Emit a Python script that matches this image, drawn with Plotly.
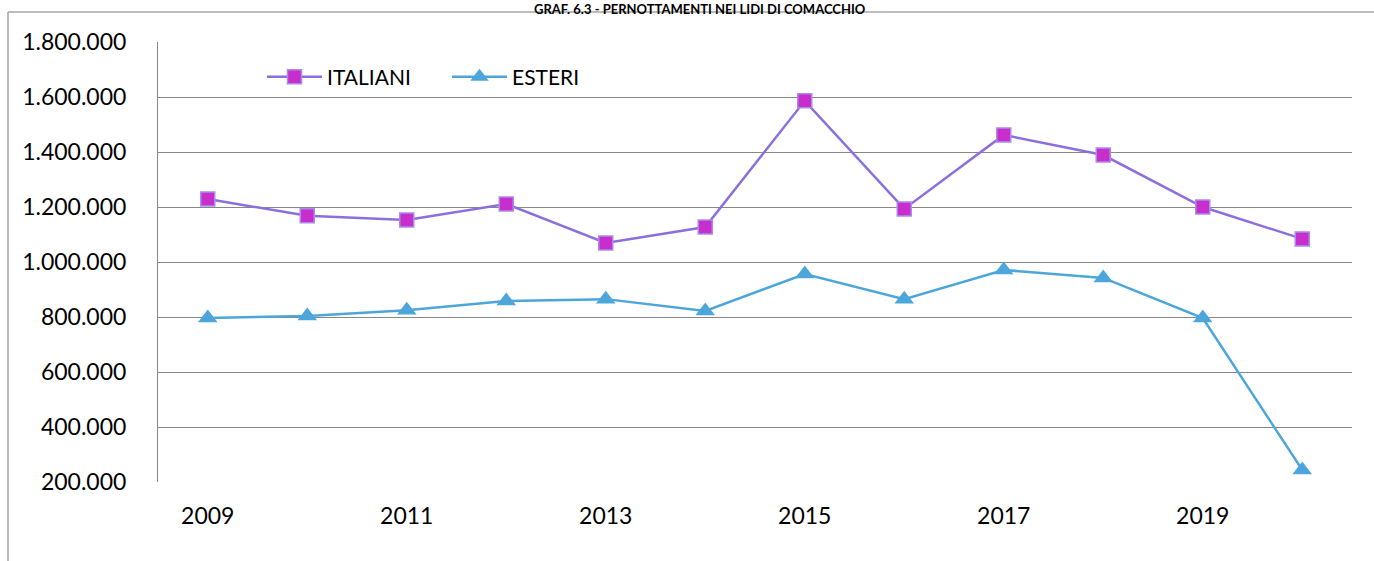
import plotly.graph_objects as go

# Pernottamenti annuali per provenienza
anni = [2009, 2010, 2011, 2012, 2013, 2014, 2015, 2016, 2017, 2018, 2019, 2020]
italiani = [1229000, 1168000, 1153000, 1211000, 1069000, 1127000,
            1586000, 1193000, 1462000, 1389000, 1200000, 1084000]
esteri = [796000, 804000, 825000, 858000, 865000, 822000,
          956000, 865000, 971000, 942000, 796000, 244000]

y_ticks = [200000, 400000, 600000, 800000, 1000000, 1200000, 1400000, 1600000, 1800000]
y_tick_text = [f"{v:,}".replace(",", ".") for v in y_ticks]
x_ticks = [2009, 2011, 2013, 2015, 2017, 2019]

FONT = "Lato"

fig = go.Figure()
fig.add_trace(go.Scatter(
    x=anni, y=italiani, name="ITALIANI", mode="lines+markers",
    line=dict(color="#8B6FDD", width=2.5),
    marker=dict(symbol="square", size=14, color="#C82ECB",
                line=dict(color="#A98BF0", width=1.5)),
))
fig.add_trace(go.Scatter(
    x=anni, y=esteri, name="ESTERI", mode="lines+markers",
    line=dict(color="#4CA6DC", width=2.5),
    marker=dict(symbol="triangle-up", size=17, color="#4CA6DC",
                line=dict(color="#4CA6DC", width=0)),
))

W, H = 1374, 561
L, R, T, B = 158, 22, 42, 79
pw, ph = W - L - R, H - T - B


def px_x(x):
    return (x - L) / pw


def px_y(y):
    return (H - B - y) / ph


fig.update_layout(
    width=W, height=H,
    margin=dict(l=L, r=R, t=T, b=B),
    paper_bgcolor="white", plot_bgcolor="white",
    font=dict(family=FONT, size=23, color="#000000"),
    showlegend=True,
    legend=dict(
        orientation="h", x=px_x(262), y=px_y(77), xanchor="left", yanchor="middle",
        font=dict(family=FONT, size=21, color="#000000"),
        itemwidth=55, entrywidth=115, bgcolor="rgba(0,0,0,0)",
    ),
    xaxis=dict(
        range=[2008.5, 2020.5], tickvals=x_ticks, ticktext=[str(v) for v in x_ticks],
        showgrid=False, zeroline=False, showline=False, ticks="",
        ticklabelstandoff=18, tickfont=dict(family=FONT, size=23),
    ),
    yaxis=dict(
        range=[200000, 1800000], tickvals=y_ticks, ticktext=y_tick_text,
        showgrid=True, gridcolor="#878787", gridwidth=1,
        zeroline=False, showline=True, linecolor="#878787", linewidth=1,
        ticks="", ticklabelstandoff=26, tickfont=dict(family=FONT, size=23),
    ),
    annotations=[dict(
        text="<b>GRAF. 6.3 - PERNOTTAMENTI NEI LIDI DI COMACCHIO</b>",
        xref="paper", yref="paper", x=px_x(700), y=px_y(0),
        xanchor="center", yanchor="top", showarrow=False,
        font=dict(family=FONT, size=13, color="#000000"),
        borderpad=0,
    )],
    shapes=[
        # chart frame: left and top borders
        dict(type="line", xref="paper", yref="paper",
             x0=px_x(8), x1=px_x(8), y0=px_y(12), y1=px_y(H + 5),
             line=dict(color="#A6A6A6", width=1.5)),
        dict(type="line", xref="paper", yref="paper",
             x0=px_x(8), x1=px_x(W + 5), y0=px_y(12), y1=px_y(12),
             line=dict(color="#A6A6A6", width=1.5)),
    ],
)

fig.write_html("out.html")
